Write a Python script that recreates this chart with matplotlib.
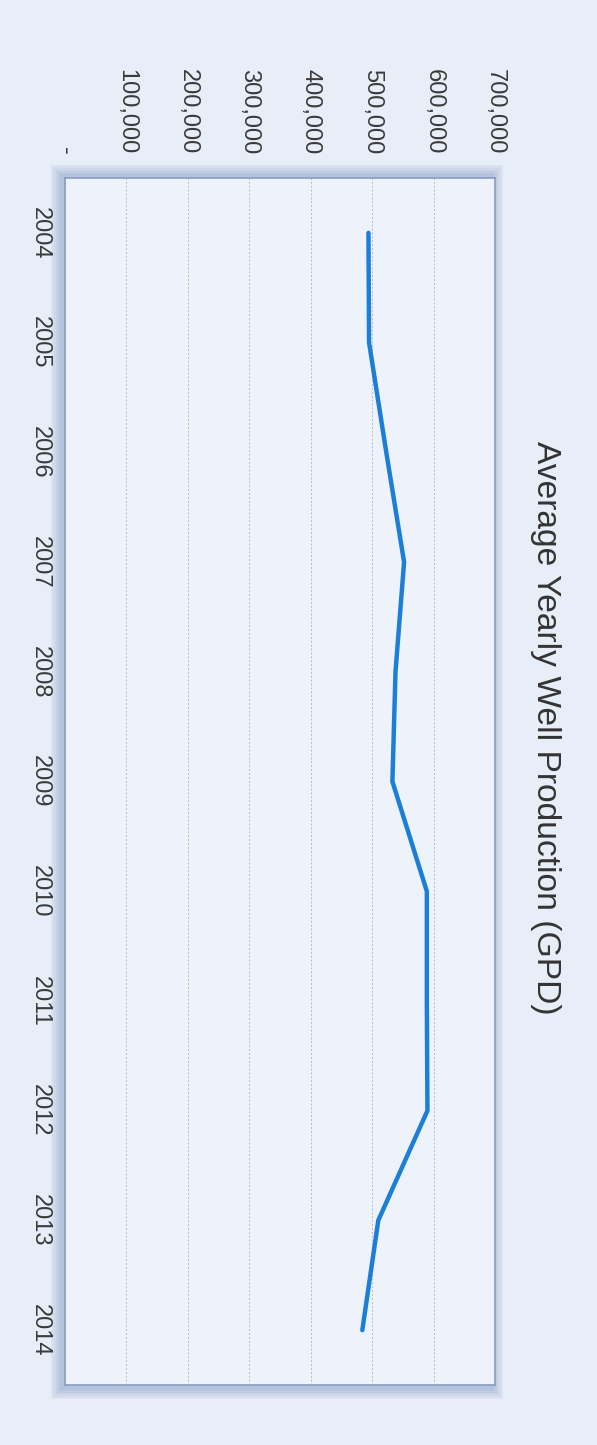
import matplotlib
matplotlib.use("Agg")
import matplotlib.pyplot as plt
from matplotlib.ticker import FuncFormatter

years = [2004, 2005, 2006, 2007, 2008, 2009, 2010, 2011, 2012, 2013, 2014]
gpd = [494000, 495000, 523000, 552000, 538000, 533000, 589000, 589000, 590000, 510000, 484000]
value_ticks = [0, 100000, 200000, 300000, 400000, 500000, 600000, 700000]
title = "Average Yearly Well Production (GPD)"

plt.rcParams['font.family'] = ['Liberation Sans', 'DejaVu Sans']

W, H = 597, 1445
fig = plt.figure(figsize=(W / 100, H / 100), dpi=100)
fig.patch.set_facecolor('#e8eef8')

# plot box in pixels (left, top, right, bottom)
x0, y0, x1, y1 = 65, 178, 495, 1385

# soft bluish shadow round the plot box, heavier on the left and top
for i in range(7, 0, -1):
    d = i * 1.6
    rect = plt.Rectangle(((x0 - d - 3) / W, 1 - (y1 + d + 3) / H),
                         (x1 - x0 + 2 * d) / W, (y1 - y0 + 2 * d + 5) / H,
                         transform=fig.transFigure, facecolor='#6f86b8',
                         edgecolor='none', alpha=0.07, zorder=0)
    fig.add_artist(rect)

ax = fig.add_axes([x0 / W, 1 - y1 / H, (x1 - x0) / W, (y1 - y0) / H])
ax.set_facecolor('#eef2fb')

ax.plot(gpd, years, color='#1b7fd8', lw=3.2, solid_capstyle='round',
        solid_joinstyle='round', zorder=3)

ax.set_xlim(0, 700000)
ax.set_ylim(2014.5, 2003.5)
ax.set_xticks(value_ticks)
ax.xaxis.set_major_formatter(FuncFormatter(lambda v, p: '-' if v == 0 else f'{int(v):,}'))
ax.set_yticks(years)
ax.set_yticklabels([str(y) for y in years])

ax.xaxis.tick_top()
ax.tick_params(axis='x', length=0, pad=17, labelsize=17, labelcolor='#3a3a3a',
               labelrotation=-90)
ax.tick_params(axis='y', length=0, pad=10, labelsize=17, labelcolor='#3a3a3a',
               labelrotation=-90)
for lab in ax.get_yticklabels():
    lab.set_va('center')
    lab.set_ha('right')

ax.grid(axis='x', color='#b4b9cc', lw=0.7, ls=(0, (2, 2)))
ax.set_axisbelow(True)

for side, sp in ax.spines.items():
    sp.set_color('#8a9cc2')
    sp.set_linewidth(1.2)

fig.text(546 / W, 1 - 728 / H, title, rotation=-90, ha='center', va='center',
         fontsize=24.2, color='#333333')

fig.savefig('out.png', dpi=100, facecolor=fig.get_facecolor())
